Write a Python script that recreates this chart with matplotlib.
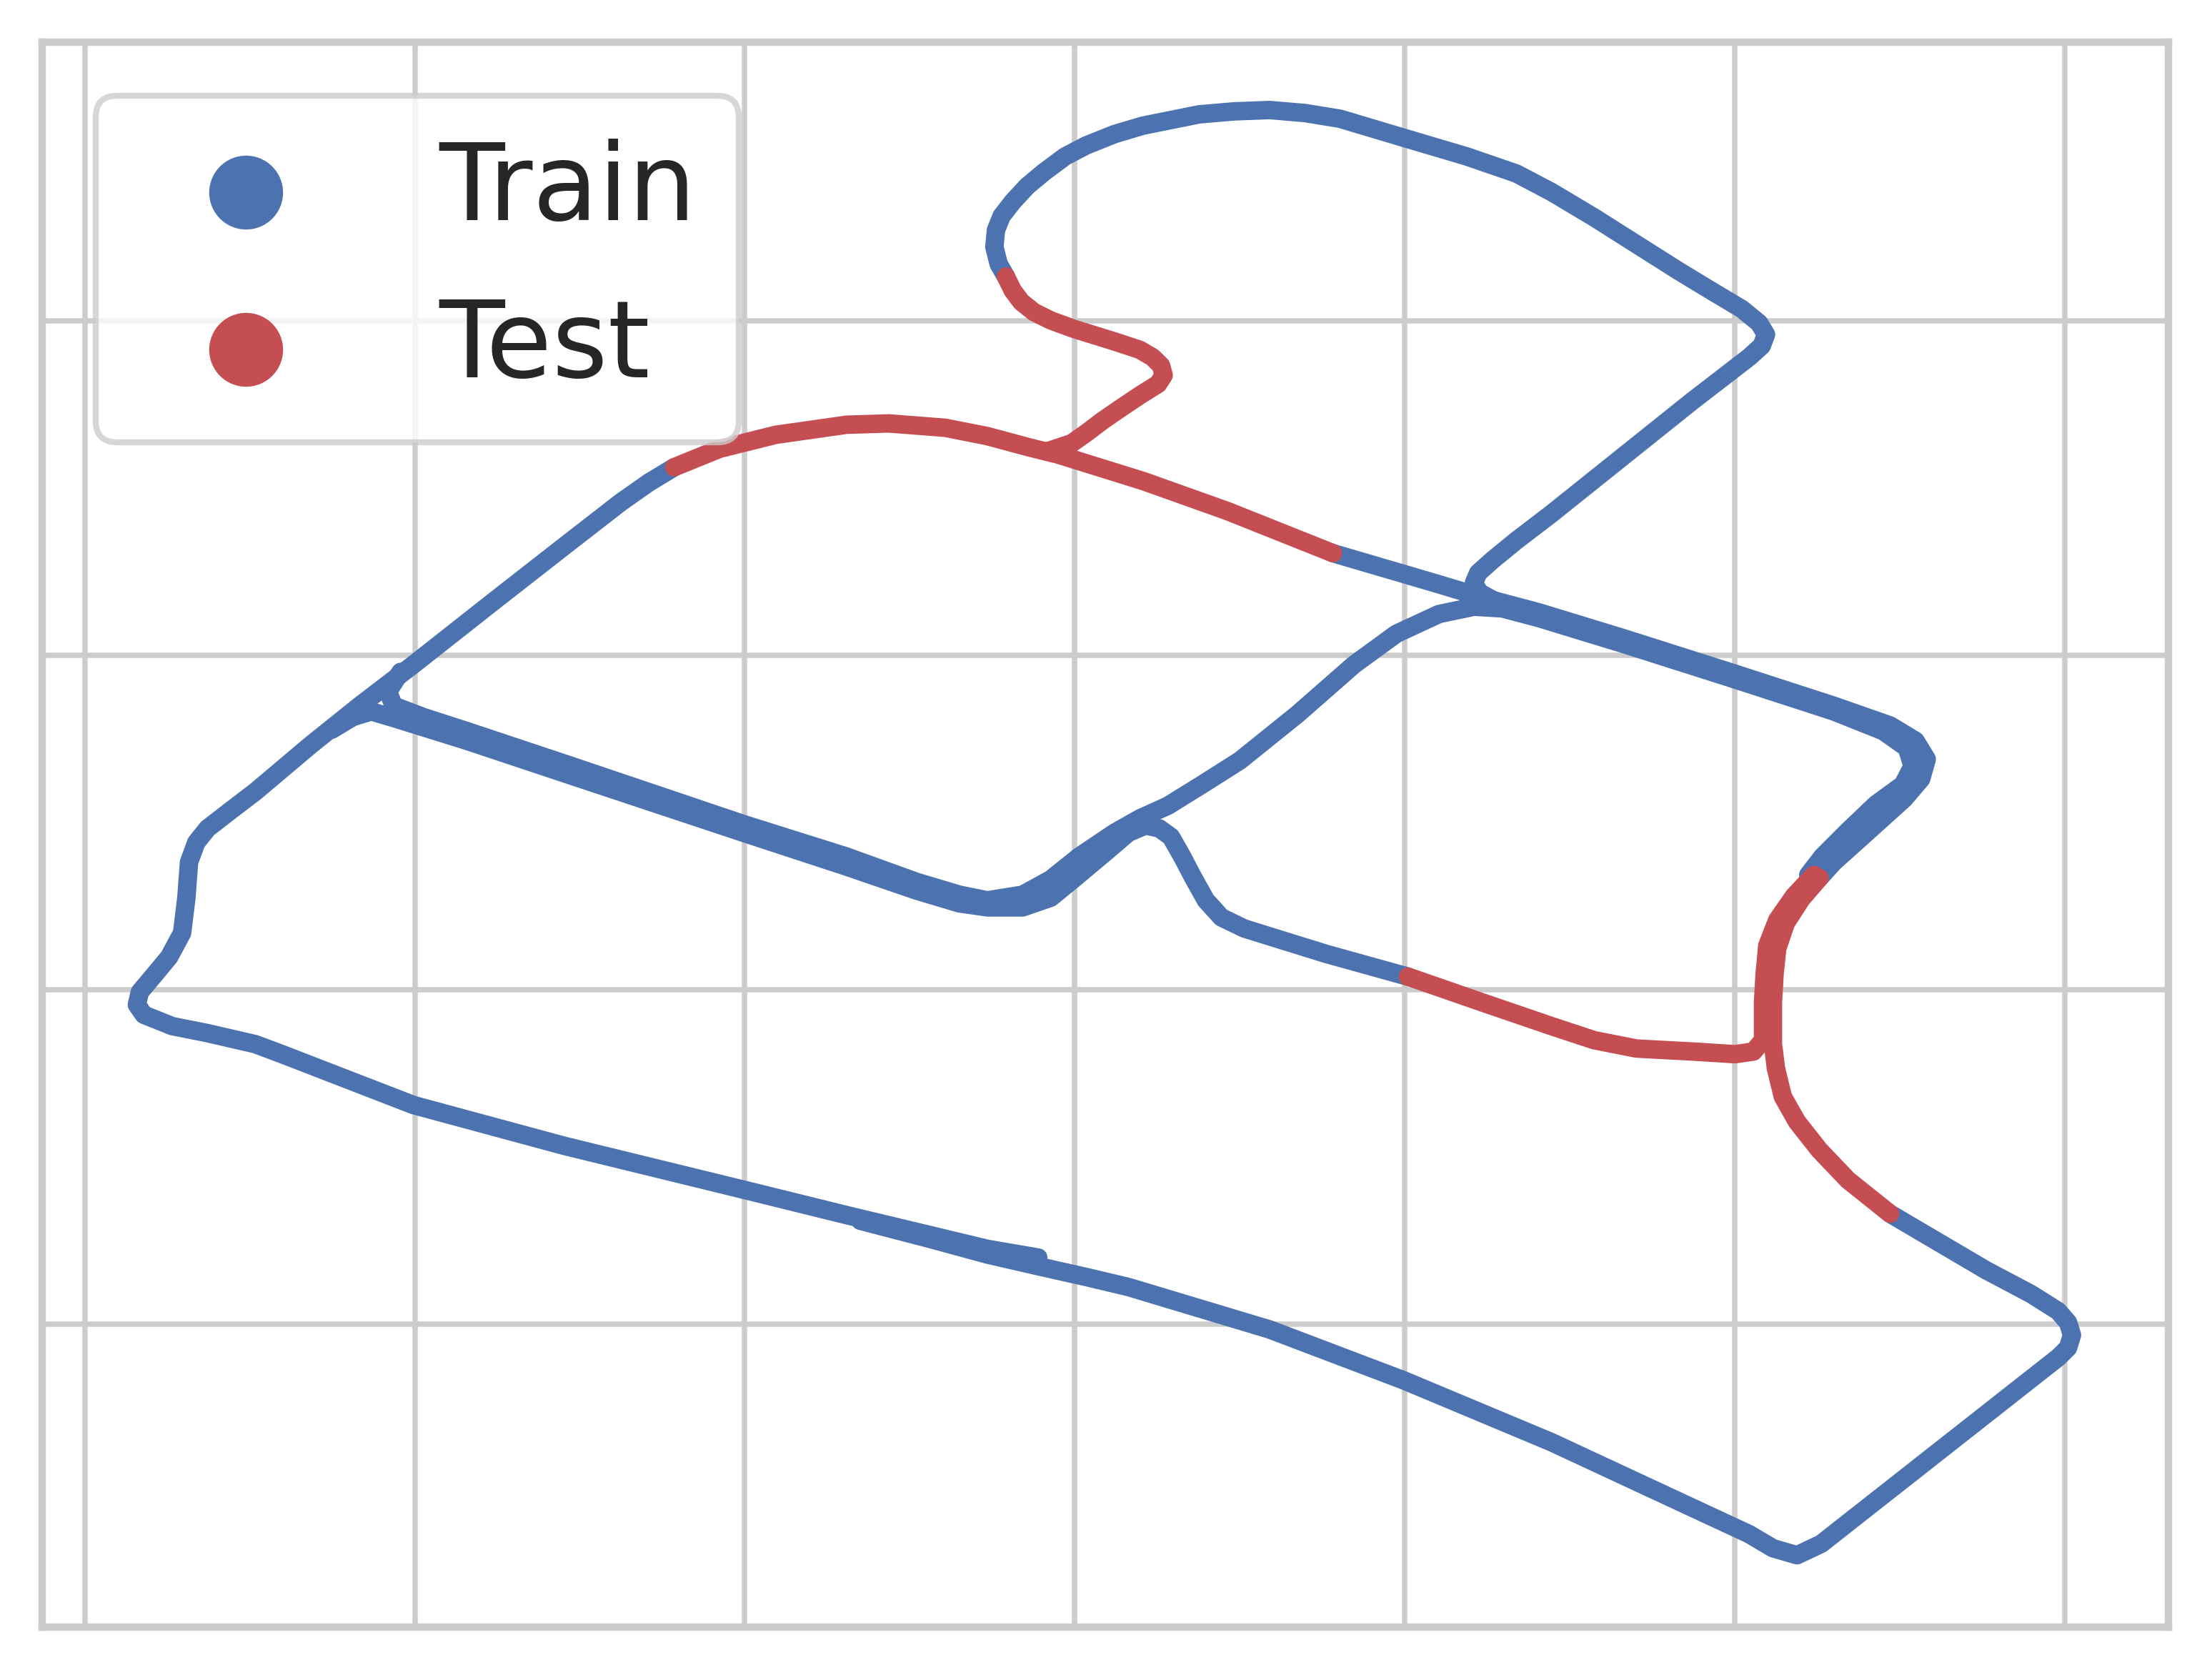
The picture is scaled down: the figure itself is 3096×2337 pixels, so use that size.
import matplotlib
matplotlib.use('Agg')
import matplotlib.pyplot as plt
import seaborn as sns

sns.set_theme(style='whitegrid', context='poster')
plt.rcParams['font.family'] = ['DejaVu Sans']

BLUE = '#4c72b0'
RED = '#c44e52'

# train pieces of the trajectory (x, y in grid units)
train_bottom_x = [2.350, 2.564, 2.735, 2.885, 3.038, 3.162, 3.590, 3.996, 4.444, 4.701,
                  5.043, 5.115, 5.188, 5.261, 5.979, 6.009, 6.021, 6.009, 5.979, 5.897,
                  5.761, 5.470]
train_bottom_y = [1.310, 1.255, 1.209, 1.175, 1.141, 1.112, 0.985, 0.833, 0.648, 0.530,
                  0.373, 0.331, 0.310, 0.344, 0.901, 0.930, 0.968, 1.006, 1.040, 1.091,
                  1.162, 1.331]

train_left_x = [2.889, 2.735, 2.308, 1.996, 1.453, 0.996, 0.598, 0.517, 0.372, 0.265,
                0.179, 0.158, 0.167, 0.214, 0.256, 0.295, 0.308, 0.316, 0.338, 0.372,
                0.444, 0.517, 0.684, 0.833, 0.996, 1.239, 1.453, 1.624, 1.709, 1.786]
train_left_y = [1.200, 1.226, 1.327, 1.403, 1.534, 1.656, 1.808, 1.838, 1.871, 1.892,
                1.926, 1.956, 1.994, 2.049, 2.099, 2.171, 2.276, 2.382, 2.441, 2.483,
                2.538, 2.593, 2.732, 2.850, 2.973, 3.162, 3.327, 3.458, 3.517, 3.563]

train_upper_x = [0.957, 0.919, 0.936, 1.026, 1.158, 1.453, 1.996, 2.308, 2.521, 2.650,
                 2.735, 2.842, 2.927, 3.013, 3.120, 3.197, 3.282, 3.385, 3.500, 3.675,
                 3.846, 3.974, 4.103, 4.209, 4.295, 4.406, 4.658, 4.996, 5.299, 5.449,
                 5.521, 5.538, 5.509, 5.427, 5.342, 5.265, 5.222]
train_upper_y = [2.951, 2.892, 2.850, 2.816, 2.774, 2.677, 2.496, 2.399, 2.323, 2.285,
                 2.268, 2.285, 2.331, 2.399, 2.470, 2.513, 2.551, 2.614, 2.686, 2.825,
                 2.973, 3.065, 3.124, 3.146, 3.141, 3.112, 3.036, 2.930, 2.833, 2.774,
                 2.724, 2.669, 2.614, 2.555, 2.475, 2.399, 2.344]

train_lower_x = [0.748, 0.812, 0.868, 0.940, 1.158, 1.453, 1.996, 2.308, 2.521, 2.650,
                 2.735, 2.842, 2.927, 3.000, 3.098, 3.162, 3.214, 3.256, 3.291, 3.325,
                 3.359, 3.397, 3.444, 3.513, 3.761, 4.009]
train_lower_y = [2.778, 2.816, 2.833, 2.812, 2.745, 2.648, 2.470, 2.369, 2.297, 2.259,
                 2.247, 2.247, 2.276, 2.335, 2.416, 2.470, 2.492, 2.483, 2.458, 2.399,
                 2.335, 2.268, 2.217, 2.184, 2.108, 2.040]

train_east_x = [3.782, 4.017, 4.103, 4.231, 4.406, 4.658, 4.996, 5.299, 5.470, 5.547,
                5.581, 5.564, 5.513, 5.385, 5.299, 5.256]
train_east_y = [3.306, 3.238, 3.213, 3.175, 3.129, 3.053, 2.947, 2.850, 2.791, 2.745,
                2.690, 2.631, 2.572, 2.458, 2.382, 2.335]

train_top_x = [4.282, 4.226, 4.209, 4.222, 4.265, 4.338, 4.444, 4.658, 4.872, 5.043,
               5.081, 5.094, 5.073, 5.021, 4.936, 4.829, 4.701, 4.573, 4.444, 4.338,
               4.188, 4.017, 3.803, 3.697, 3.590, 3.483, 3.376, 3.205, 3.120, 3.034,
               2.970, 2.906, 2.855, 2.812, 2.778, 2.761, 2.756, 2.769, 2.791]
train_top_y = [3.158, 3.188, 3.217, 3.247, 3.285, 3.344, 3.424, 3.593, 3.762, 3.892,
               3.926, 3.960, 3.994, 4.036, 4.086, 4.150, 4.230, 4.310, 4.386, 4.441,
               4.492, 4.542, 4.605, 4.622, 4.631, 4.627, 4.618, 4.584, 4.559, 4.525,
               4.492, 4.445, 4.403, 4.357, 4.314, 4.272, 4.222, 4.171, 4.133]

# test pieces
test_arc_x = [1.786, 1.923, 2.094, 2.308, 2.436, 2.607, 2.735, 2.863, 2.949, 3.209,
              3.462, 3.782]
test_arc_y = [3.563, 3.618, 3.660, 3.690, 3.694, 3.681, 3.656, 3.622, 3.601, 3.521,
              3.432, 3.306]

test_s_x = [2.791, 2.812, 2.838, 2.876, 2.927, 2.996, 3.120, 3.197, 3.235, 3.261,
            3.269, 3.252, 3.197, 3.141, 3.085, 3.034, 2.991, 2.927, 2.915]
test_s_y = [4.133, 4.091, 4.057, 4.027, 4.002, 3.977, 3.939, 3.914, 3.892, 3.867,
            3.838, 3.812, 3.778, 3.741, 3.703, 3.665, 3.635, 3.614, 3.610]

test_mid_x = [4.009, 4.231, 4.444, 4.573, 4.701, 4.872, 5.000, 5.056, 5.085, 5.085,
              5.090, 5.098, 5.128, 5.179, 5.239]
test_mid_y = [2.040, 1.964, 1.892, 1.850, 1.825, 1.816, 1.808, 1.816, 1.850, 1.964,
              2.049, 2.133, 2.209, 2.281, 2.344]

test_right_x = [5.256, 5.201, 5.154, 5.128, 5.120, 5.115, 5.115, 5.124, 5.145, 5.188,
                5.256, 5.342, 5.470]
test_right_y = [2.335, 2.272, 2.200, 2.124, 2.049, 1.964, 1.838, 1.766, 1.681, 1.606,
                1.521, 1.432, 1.331]

train_parts = [(train_bottom_x, train_bottom_y), (train_left_x, train_left_y),
               (train_upper_x, train_upper_y), (train_lower_x, train_lower_y),
               (train_east_x, train_east_y), (train_top_x, train_top_y)]
test_parts = [(test_arc_x, test_arc_y), (test_s_x, test_s_y),
              (test_mid_x, test_mid_y), (test_right_x, test_right_y)]

fig = plt.figure(figsize=(10.32, 7.79), dpi=300)
ax = fig.add_axes([0.01906, 0.02567, 0.9612, 0.9491])

line_kw = dict(lw=6.2, solid_capstyle='round', solid_joinstyle='round')
for xs, ys in train_parts:
    ax.plot(xs, ys, color=BLUE, **line_kw)
for xs, ys in test_parts:
    ax.plot(xs, ys, color=RED, **line_kw)

# empty scatters only feed the legend
ax.scatter([], [], s=520, color=BLUE, label='Train')
ax.scatter([], [], s=520, color=RED, label='Test')

ax.set_xlim(-0.129, 6.313)
ax.set_ylim(0.095, 4.834)
ax.set_xticks(range(0, 7))
ax.set_yticks(range(1, 5))
ax.tick_params(labelbottom=False, labelleft=False, length=0)
ax.grid(True, color='0.8', lw=1.8)
for sp in ax.spines.values():
    sp.set_color('0.8')
    sp.set_linewidth(2.5)

leg = ax.legend(loc='upper left', fontsize=36, frameon=True, scatterpoints=1,
                fancybox=True, framealpha=0.8, edgecolor='0.8')
leg.get_frame().set_linewidth(2.0)

fig.savefig('out.png', dpi=300)
